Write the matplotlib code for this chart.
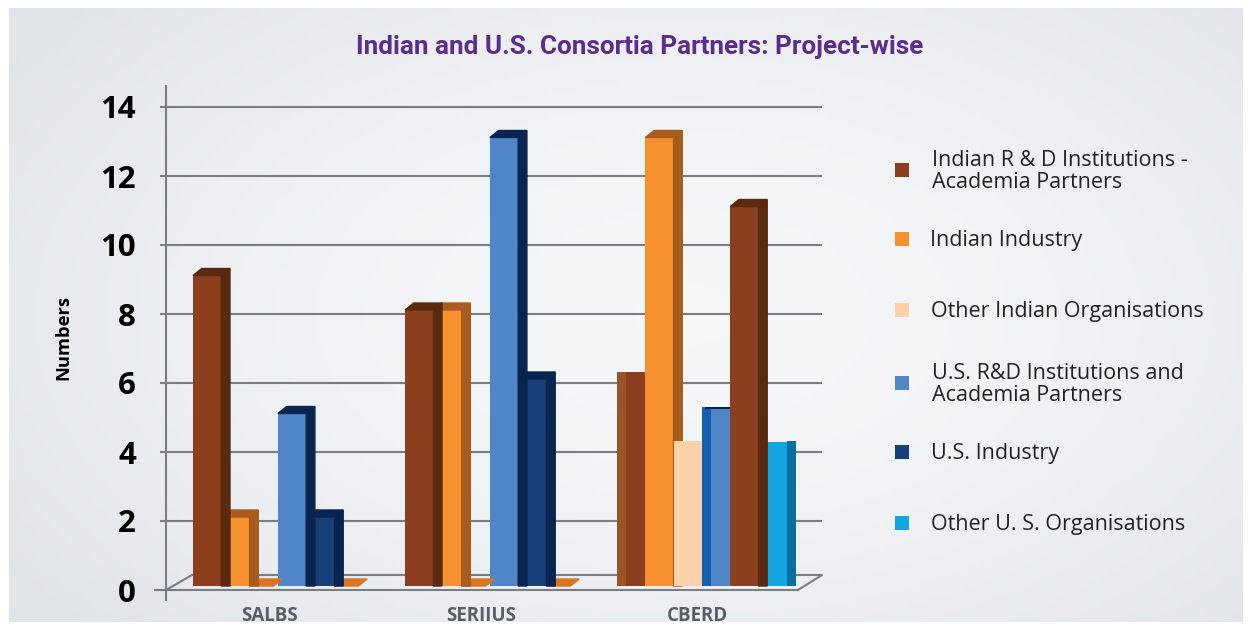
import numpy as np
import matplotlib
matplotlib.use('Agg')
import matplotlib.pyplot as plt
from matplotlib.colors import LinearSegmentedColormap
from matplotlib.patches import Polygon, Rectangle
from matplotlib.transforms import Affine2D

categories = ['SALBS', 'SERIIUS', 'CBERD']
indian_rd = [9, 8, 6]
indian_industry = [2, 8, 13]
other_indian = [0, 0, 4]
us_rd = [5, 13, 5]
us_industry = [2, 6, 11]
other_us = [0, 0, 4]
series = [indian_rd, indian_industry, other_indian, us_rd, us_industry, other_us]
legend_labels = ['Indian R & D Institutions -\nAcademia Partners', 'Indian Industry',
                 'Other Indian Organisations', 'U.S. R&D Institutions and\nAcademia Partners',
                 'U.S. Industry', 'Other U. S. Organisations']
y_ticks = [0, 2, 4, 6, 8, 10, 12, 14]

# front and side colours
front = ['#8C3F1E', '#F7902F', '#FCD0A8', '#4E86C8', '#173F78', '#13A5E0']
side = ['#5A2A0E', '#A85C1E', '#FCD0A8', '#0A2450', '#0A2450', '#0A6FA0']

W, H = 1252, 626
fig = plt.figure(figsize=(W / 100, H / 100), dpi=100, facecolor='white')

# background panel with a soft gradient
bg = fig.add_axes([0, 0, 1, 1], zorder=0)
yy, xx = np.mgrid[0:1:120j, 0:1:240j]
shade = 1 - np.clip(((xx - 0.55) ** 2 / 0.45 + (yy - 0.5) ** 2 / 0.6), 0, 1)
bg.imshow(shade, extent=[9, 1243, 622, 8], aspect='auto', vmin=0, vmax=1,
          cmap=LinearSegmentedColormap.from_list('b', ['#E0E3E8', '#F4F6F8']))
bg.set_xlim(0, W)
bg.set_ylim(H, 0)
bg.axis('off')


def px(x):
    return (x - 269) / 212


ax = fig.add_axes([166 / W, 1 - 590 / H, 656 / W, 504 / H], zorder=1)
ax.patch.set_alpha(0)
ax.set_xlim(px(166), px(822))
ax.set_ylim(0, 504 / 34.5)
for s in ax.spines.values():
    s.set_visible(False)

ax.set_yticks(y_ticks)
ax.grid(axis='y', color='#7A7E84', lw=1.5, zorder=0)
ax.set_axisbelow(True)
ax.yaxis.get_gridlines()[0].set_visible(False)
ax.tick_params(axis='y', length=4.5, width=1.5, color='#7A7E84', pad=17, labelsize=22.5)
for t in ax.get_yticklabels():
    t.set_fontfamily(['Open Sans', 'DejaVu Sans'])
    t.set_fontweight('bold')
ax.set_xticks([0, 1, 2.02])
ax.set_xticklabels(categories, fontsize=13.5, fontweight='bold', color='#5A5F66',
                   fontfamily=['Open Sans', 'DejaVu Sans'])
ax.tick_params(axis='x', length=0, pad=11.5)

line = dict(color='#7A7E84', lw=1.5, clip_on=False, zorder=1)
ax.plot([px(166)] * 2, [-0.29, 14.6], **line)
ax.plot([px(155), px(798)], [0, 0], **line)
ax.plot([px(166), px(192), px(822), px(798)], [0, 0.435, 0.435, 0], **line)

# bars sit a little above the front floor line
tr = ax.transData + Affine2D().translate(0, 4)
w = 28.3 / 212
dx = 8.7 / 212
dy = 7 / 34.5


def draw_bar(x, v, j, mode):
    z = 3 + (6 - j) * 0.1
    if mode == 'flat':
        ax.bar(x, v + dy, w, align='edge', color=front[j], zorder=6, transform=tr)
        return
    if mode == 'left':
        ax.bar(x, v + dy, w, align='edge', color=front[j], zorder=6, transform=tr)
        stripe = {0: '#9A5424', 3: '#1560AE'}[j]
        ax.bar(x, v + dy, 0.33 * w, align='edge', color=stripe, zorder=6.1, transform=tr)
        if j == 3:
            ax.bar(x + 0.1 * w, 0.06, 0.9 * w, bottom=v + dy - 0.06, align='edge',
                   color='#0A2450', zorder=6.2, transform=tr)
        return
    if mode == 'thin':
        # this one is drawn with a much shallower top
        ax.bar(x, v + 0.17, w, align='edge', color=front[j], zorder=z, transform=tr)
        ax.bar(x + w, v + 0.2, dx, align='edge', color=side[j], zorder=z, transform=tr)
        return
    if v == 0:
        # zero values still show the top face of the bar
        ax.add_patch(Polygon([(x, 0), (x + 0.85 * w, 0), (x + 0.85 * w + dx, dy), (x + dx, dy)],
                             color='#D9751F', zorder=z, transform=tr))
        return
    ax.bar(x, v, w, align='edge', color=front[j], zorder=z, transform=tr)
    ax.add_patch(Polygon([(x + w, 0), (x + w + dx, 0), (x + w + dx, v + dy), (x + w, v)],
                         color=side[j], zorder=z, transform=tr))
    ax.add_patch(Polygon([(x, v), (x + w, v), (x + w + dx, v + dy), (x + dx, v + dy)],
                         color=side[j], zorder=z, transform=tr))


for i in range(len(categories)):
    for j in range(len(series)):
        x = i - 76 / 212 + j * w
        v = series[j][i]
        mode = 'right'
        col = j
        if i == 2 and j in (0, 3):
            mode = 'left'
        if i == 2 and j == 2:
            mode = 'flat'
        if i == 2 and j == 5:
            mode = 'thin'
        if i == 2 and j == 4:
            col = 0  # drawn brown in the original
        draw_bar(x, v, col, mode)

fig.text(640 / W, 1 - 47 / H, 'Indian and U.S. Consortia Partners: Project-wise', ha='center', va='center',
         fontsize=18.8, fontweight='bold', color='#5B2D8E', fontfamily=['Roboto', 'DejaVu Sans'])
fig.text(63 / W, 1 - 337 / H, 'Numbers', rotation=90, ha='center', va='center', fontsize=13.2,
         fontweight='bold', color='black', fontfamily=['Open Sans', 'DejaVu Sans'])

leg_y = [170, 239, 310, 383, 452, 523]
leg_x = [932, 930, 931, 932, 931, 931]
for j, lab in enumerate(legend_labels):
    y = leg_y[j]
    fig.patches.append(Rectangle((895 / W, 1 - (y + 7) / H), 14 / W, 14 / H, transform=fig.transFigure,
                                 facecolor=front[j], edgecolor='none', zorder=5))
    fig.text(leg_x[j] / W, 1 - (y + 1.5) / H, lab, ha='left', va='center', fontsize=15.5, color='#222222',
             linespacing=1.12, fontfamily=['Open Sans', 'DejaVu Sans'])

fig.savefig('out.png', dpi=100)
